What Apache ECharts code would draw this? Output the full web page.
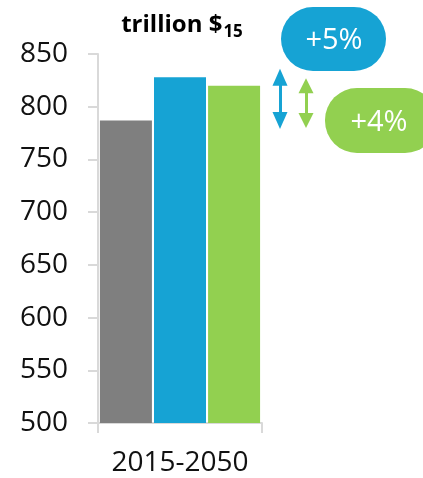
<!DOCTYPE html>
<html>
<head>
<meta charset="utf-8">
<script src="https://cdn.jsdelivr.net/npm/echarts@6/dist/echarts.min.js"></script>
<style>
  html, body { margin: 0; padding: 0; background: #fff; }
  #chart { width: 423px; height: 478px; }
</style>
</head>
<body>
<div id="chart"></div>
<script>
// Output in trillion 2015 dollars, cumulative over 2015-2050
const categories = ['2015-2050'];
const baseline = [787];
const scenarioA = [828];
const scenarioB = [820];
const yTicks = { min: 500, max: 850, step: 50 };
const changeLabels = ['+5%', '+4%'];

const GREY = '#7f7f7f';
const BLUE = '#16a3d4';
const GREEN = '#92d050';
const AXIS = '#d9d9d9';
const FONT = '"Open Sans", "DejaVu Sans", sans-serif';

const chart = echarts.init(document.getElementById('chart'));

// Double-headed arrow spanning two values, drawn in data space
function spanArrow(color, top, bottom, xPx, size) {
  return {
    silent: true,
    symbol: ['triangle', 'triangle'],
    symbolSize: size,
    label: { show: false },
    lineStyle: { color: color, width: 3, type: 'solid' },
    itemStyle: { color: color },
    emphasis: { disabled: true },
    data: [[
      { coord: [0, top], x: xPx },
      { coord: [0, bottom], x: xPx }
    ]]
  };
}

chart.setOption({
  animation: false,
  textStyle: { fontFamily: FONT },
  title: {
    text: '{a|trillion $}{b|15}',
    left: 177,
    top: 4,
    textAlign: 'center',
    textStyle: {
      rich: {
        a: { fontFamily: FONT, fontSize: 24, fontWeight: 700, color: '#000', lineHeight: 32 },
        b: { fontFamily: FONT, fontSize: 17, fontWeight: 700, color: '#000', lineHeight: 32, padding: [14, 0, 0, 1] }
      }
    }
  },
  grid: { left: 98, right: 161, top: 54, bottom: 55, containLabel: false },
  xAxis: {
    type: 'category',
    data: categories,
    axisLine: { lineStyle: { color: AXIS, width: 2 } },
    axisTick: { show: true, length: 10, lineStyle: { color: AXIS, width: 2 } },
    axisLabel: { fontSize: 28, color: '#111', margin: 26, fontFamily: FONT }
  },
  yAxis: {
    type: 'value',
    min: yTicks.min,
    max: yTicks.max,
    interval: yTicks.step,
    splitLine: { show: false },
    axisLine: { show: true, lineStyle: { color: AXIS, width: 2 } },
    axisTick: { show: true, length: 10, lineStyle: { color: AXIS, width: 2 } },
    axisLabel: { fontSize: 28, color: '#111', margin: 30, fontFamily: FONT }
  },
  series: [
    {
      name: 'Baseline', type: 'bar', data: baseline,
      barWidth: 52, barGap: '4%',
      itemStyle: { color: GREY }
    },
    {
      name: 'Scenario A', type: 'bar', data: scenarioA,
      barWidth: 52, barGap: '4%',
      itemStyle: { color: BLUE },
      markLine: spanArrow(BLUE, scenarioA[0], baseline[0], 280, [15, 17])
    },
    {
      name: 'Scenario B', type: 'bar', data: scenarioB,
      barWidth: 52, barGap: '4%',
      itemStyle: { color: GREEN },
      markLine: spanArrow(GREEN, scenarioB[0], baseline[0], 306, [15, 15])
    }
  ],
  graphic: [
    {
      type: 'rect', shape: { x: 281, y: 7, width: 105, height: 64, r: 32 },
      style: { fill: BLUE }, silent: true
    },
    {
      type: 'text', x: 334, y: 41,
      style: { text: changeLabels[0], fill: '#fff', font: '400 29px ' + FONT, align: 'center', verticalAlign: 'middle' },
      silent: true
    },
    {
      type: 'rect', shape: { x: 325, y: 88, width: 112, height: 65, r: 32 },
      style: { fill: GREEN }, silent: true
    },
    {
      type: 'text', x: 379, y: 123,
      style: { text: changeLabels[1], fill: '#fff', font: '400 29px ' + FONT, align: 'center', verticalAlign: 'middle' },
      silent: true
    }
  ]
});
</script>
</body>
</html>
